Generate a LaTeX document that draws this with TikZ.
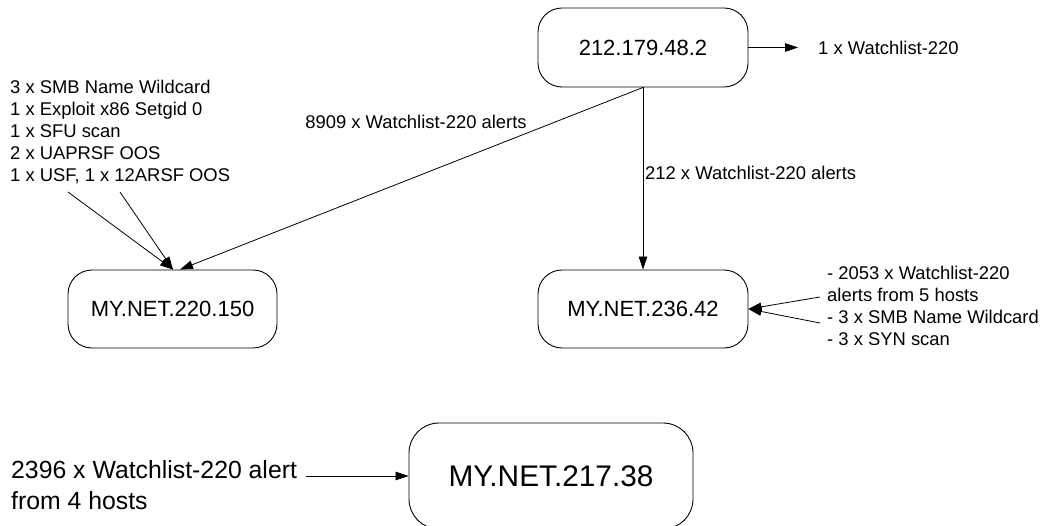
\documentclass[tikz,border=0pt]{standalone}
\usepackage{fontspec}
\setmainfont{Liberation Sans}
\usetikzlibrary{arrows.meta}
\begin{document}
\begin{tikzpicture}[x=1pt,y=-1pt,
  hostbox/.style={draw, rounded corners=24pt, line width=0.9pt, inner sep=0pt, font=\fontsize{22}{26}\selectfont},
  lbl/.style={inner sep=0pt, font=\fontsize{18.4}{22}\selectfont},
  arr/.style={-{Triangle[length=13pt,width=8.5pt]}, line width=0.8pt}]
\useasboundingbox (0,0) rectangle (1048,526);

\node[hostbox, minimum width=210pt, minimum height=79pt] (top) at (643,47.5) {212.179.48.2};
\node[hostbox, minimum width=209pt, minimum height=78pt] (n220) at (172.5,309) {MY.NET.220.150};
\node[hostbox, minimum width=210pt, minimum height=78pt] (n236) at (643,309) {MY.NET.236.42};
\node[hostbox, minimum width=284pt, minimum height=106pt, rounded corners=30pt, font=\fontsize{29.8}{34}\selectfont] (n217) at (551,476) {MY.NET.217.38};

\node[lbl, anchor=north west, align=left] (ltxt) at (10,80.2) {3 x SMB Name Wildcard\\1 x Exploit x86 Setgid 0\\1 x SFU scan\\2 x UAPRSF OOS\\1 x USF, 1 x 12ARSF OOS};
\node[lbl] (l8909) at (416,122) {8909 x Watchlist-220 alerts};
\node[lbl, anchor=west] (l212) at (645,173) {212 x Watchlist-220 alerts};
\node[lbl, anchor=west] (w1) at (818,47.5) {1 x Watchlist-220};
\node[lbl, anchor=north west, align=left] (rtxt) at (827,266) {- 2053 x Watchlist-220\\alerts from 5 hosts\\- 3 x SMB Name Wildcard\\- 3 x SYN scan};
\node[anchor=north west, align=left, inner sep=0pt, font=\fontsize{24.8}{31}\selectfont] (btxt) at (11,460) {2396 x Watchlist-220 alert\\from 4 hosts};

\coordinate (s1) at (68,192);
\coordinate (s2) at (120,192);
\coordinate (r1) at (820,297);
\coordinate (r2) at (820,323);
\coordinate (b1) at (306,476);

\draw[arr] (s1) -- ([xshift=0.5pt]n220.north);
\draw[arr] (s2) -- ([xshift=0.5pt]n220.north);
\draw[arr] (top.south) -- ([xshift=7.5pt]n220.north);
\draw[arr] (top.south) -- (n236.north);
\draw[arr] (top.east) -- ([xshift=-20pt]w1.west);
\draw[arr] (r1) -- (n236.east);
\draw[arr] (r2) -- (n236.east);
\draw[arr] (b1) -- (n217.west);
\end{tikzpicture}
\end{document}
